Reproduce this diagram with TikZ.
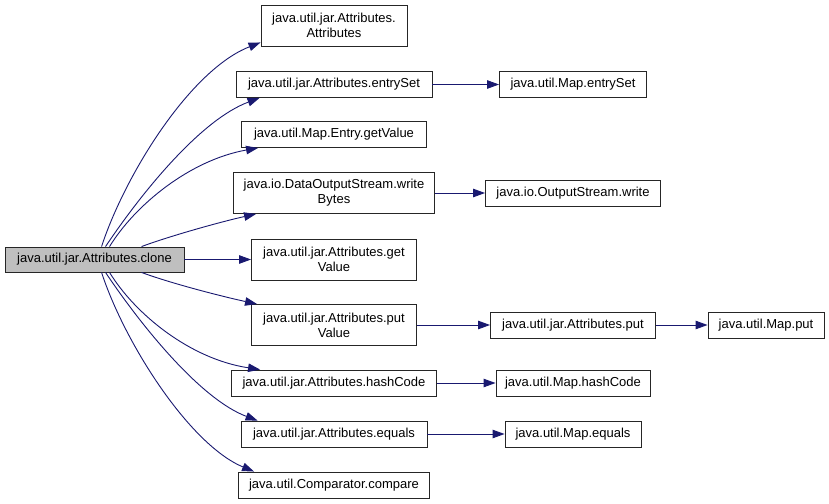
\documentclass[tikz,border=0pt]{standalone}
\usepackage{fontspec}
\setmainfont{Liberation Sans}
\usetikzlibrary{arrows.meta}
\definecolor{edgeblue}{HTML}{191970}
\definecolor{rootgray}{HTML}{BFBFBF}
\begin{document}
\begin{tikzpicture}[x=1pt,y=-1pt,
  box/.style={draw=black!85, line width=0.9pt, fill=white, rectangle, inner sep=0pt,
    align=center, font=\fontsize{13pt}{15pt}\selectfont, minimum height=26pt},
  tall/.style={minimum height=41pt},
  rootbox/.style={box, fill=rootgray},
  call/.style={draw=edgeblue, line width=0.9pt, -{Triangle[length=12pt,width=8.5pt]}, fill=none}
]
\useasboundingbox (0,0) rectangle (829,503);

% root
\node[rootbox, minimum width=179pt, minimum height=25pt] (root) at (94.5,259.5) {java.util.jar.Attributes.clone};

% column 2
\node[box, tall, minimum width=146pt] (A) at (334,25.5) {java.util.jar.Attributes.\\Attributes};
\node[box, minimum width=196pt] (B) at (334,84.5) {java.util.jar.Attributes.entrySet};
\node[box, minimum width=185pt] (C) at (334,134.5) {java.util.Map.Entry.getValue};
\node[box, tall, minimum width=201pt] (D) at (334,193) {java.io.DataOutputStream.write\\Bytes};
\node[box, tall, minimum width=165pt] (E) at (334,259.5) {java.util.jar.Attributes.get\\Value};
\node[box, tall, minimum width=165pt] (F) at (334,325) {java.util.jar.Attributes.put\\Value};
\node[box, minimum width=205pt] (G) at (334,383) {java.util.jar.Attributes.hashCode};
\node[box, minimum width=186pt] (H) at (334,434) {java.util.jar.Attributes.equals};
\node[box, minimum width=191pt] (I) at (334,485) {java.util.Comparator.compare};

% column 3
\node[box, minimum width=147pt] (J) at (573,84.5) {java.util.Map.entrySet};
\node[box, minimum width=175pt] (K) at (573,193) {java.io.OutputStream.write};
\node[box, minimum width=165pt] (L) at (573,325) {java.util.jar.Attributes.put};
\node[box, minimum width=154pt] (M) at (573,383) {java.util.Map.hashCode};
\node[box, minimum width=136pt] (N) at (573,434) {java.util.Map.equals};

% column 4
\node[box, minimum width=116pt] (O) at (766,325) {java.util.Map.put};

% edges from root
\draw[call] ([xshift=97pt]root.north west) .. controls (125,175) and (190,70) .. ([yshift=4pt]A.south west);
\draw[call] ([xshift=101pt]root.north west) .. controls (140,195) and (200,120) .. ([xshift=24pt]B.south west);
\draw[call] ([xshift=105pt]root.north west) .. controls (135,205) and (190,160) .. ([xshift=17pt]C.south west);
\draw[call] ([xshift=137pt]root.north west) .. controls (170,236) and (220,222) .. ([xshift=23pt]D.south west);
\draw[call] (root.east) -- (E.west);
\draw[call] ([xshift=137pt]root.south west) .. controls (170,283) and (220,296) .. ([xshift=6pt]F.north west);
\draw[call] ([xshift=105pt]root.south west) .. controls (135,314) and (190,359) .. ([xshift=29pt]G.north west);
\draw[call] ([xshift=101pt]root.south west) .. controls (140,324) and (200,399) .. ([xshift=17pt]H.north west);
\draw[call] ([xshift=97pt]root.south west) .. controls (125,344) and (190,445) .. ([xshift=16pt]I.north west);

% further edges
\draw[call] (B.east) -- (J.west);
\draw[call] (D.east) -- (K.west);
\draw[call] (F.east) -- (L.west);
\draw[call] (L.east) -- (O.west);
\draw[call] (G.east) -- (M.west);
\draw[call] (H.east) -- (N.west);
\end{tikzpicture}
\end{document}
